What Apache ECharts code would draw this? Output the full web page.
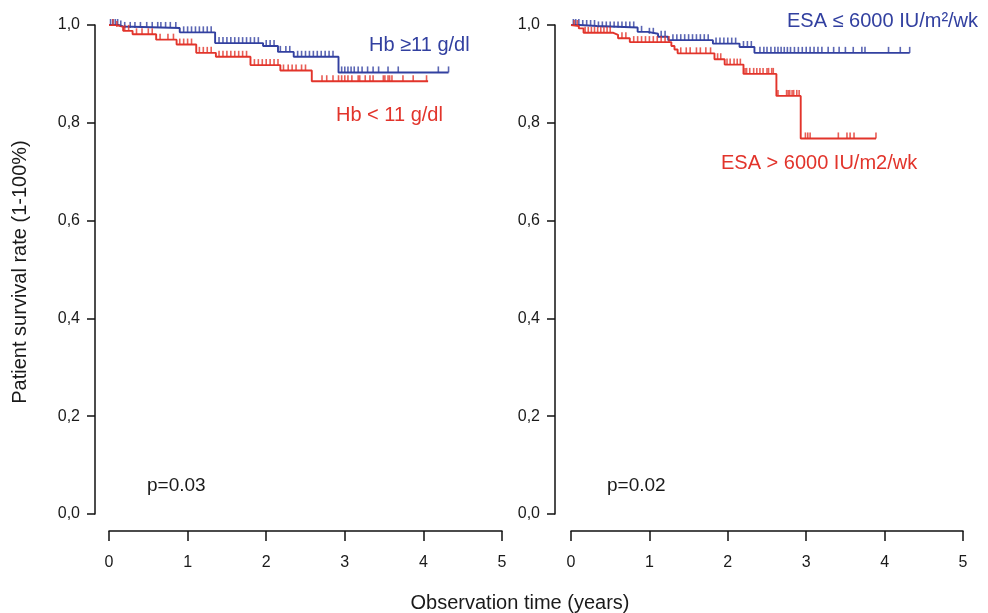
<!DOCTYPE html>
<html>
<head>
<meta charset="utf-8">
<script src="https://cdn.jsdelivr.net/npm/echarts@6/dist/echarts.min.js"></script>
<style>
  html, body { margin: 0; padding: 0; background: #fff; }
  #main { width: 988px; height: 613px; }
</style>
</head>
<body>
<div id="main"></div>
<script>
  // Kaplan-Meier steps: [years, survival]
  let hbHighSteps = [[0, 1.0], [0.12, 0.997], [0.18, 0.994], [0.90, 0.985], [1.35, 0.963], [1.96, 0.957], [2.15, 0.945], [2.35, 0.935], [2.92, 0.903], [4.32, 0.903]]
  let hbLowSteps = [[0, 1.0], [0.10, 0.996], [0.18, 0.988], [0.30, 0.981], [0.60, 0.970], [0.86, 0.960], [1.11, 0.943], [1.36, 0.935], [1.80, 0.918], [2.18, 0.907], [2.58, 0.885], [4.06, 0.885]]
  let esaLowSteps = [[0, 1.0], [0.11, 0.998], [0.33, 0.995], [0.85, 0.986], [0.98, 0.982], [1.11, 0.976], [1.24, 0.969], [1.81, 0.962], [2.15, 0.955], [2.34, 0.943], [4.32, 0.943]]
  let esaHighSteps = [[0, 1.0], [0.02, 0.998], [0.10, 0.993], [0.16, 0.984], [0.54, 0.980], [0.60, 0.973], [0.75, 0.965], [1.28, 0.957], [1.32, 0.950], [1.36, 0.942], [1.83, 0.930], [1.96, 0.919], [2.20, 0.900], [2.62, 0.855], [2.93, 0.768], [3.89, 0.768]]

  // censored observations (years)
  let hbHighCensor = [0.02, 0.05, 0.08, 0.11, 0.15, 0.2, 0.27, 0.33, 0.4, 0.48, 0.55, 0.62, 0.66, 0.72, 0.78, 0.85, 0.95, 1.0, 1.05, 1.1, 1.15, 1.2, 1.25, 1.3, 1.4, 1.45, 1.5, 1.55, 1.6, 1.65, 1.7, 1.75, 1.8, 1.85, 1.9, 2.0, 2.05, 2.1, 2.18, 2.25, 2.3, 2.4, 2.45, 2.5, 2.55, 2.6, 2.65, 2.7, 2.75, 2.8, 2.85, 2.96, 3.0, 3.04, 3.08, 3.12, 3.17, 3.22, 3.29, 3.36, 3.43, 3.55, 3.68, 4.19, 4.32]
  let hbLowCensor = [0.05, 0.1, 0.2, 0.25, 0.35, 0.42, 0.5, 0.55, 0.65, 0.75, 0.82, 0.9, 0.95, 1.0, 1.05, 1.15, 1.2, 1.25, 1.3, 1.4, 1.45, 1.5, 1.55, 1.6, 1.65, 1.7, 1.75, 1.85, 1.9, 1.95, 2.0, 2.05, 2.1, 2.15, 2.22, 2.28, 2.33, 2.38, 2.45, 2.5, 2.71, 2.77, 2.85, 2.92, 2.96, 3.0, 3.04, 3.09, 3.17, 3.19, 3.26, 3.32, 3.36, 3.49, 3.51, 3.55, 3.57, 3.6, 3.74, 3.87, 4.04]
  let esaLowCensor = [0.03, 0.06, 0.1, 0.15, 0.2, 0.25, 0.3, 0.35, 0.4, 0.45, 0.5, 0.55, 0.6, 0.65, 0.7, 0.75, 0.8, 0.9, 1.0, 1.05, 1.15, 1.2, 1.3, 1.35, 1.4, 1.45, 1.5, 1.55, 1.6, 1.65, 1.7, 1.75, 1.85, 1.9, 1.95, 2.0, 2.05, 2.1, 2.2, 2.25, 2.3, 2.41, 2.46, 2.5, 2.55, 2.6, 2.64, 2.68, 2.72, 2.76, 2.8, 2.85, 2.9, 2.95, 3.0, 3.05, 3.1, 3.15, 3.2, 3.28, 3.35, 3.42, 3.5, 3.6, 3.71, 3.75, 4.05, 4.2, 4.32]
  let esaHighCensor = [0.04, 0.08, 0.18, 0.22, 0.26, 0.3, 0.34, 0.38, 0.42, 0.46, 0.5, 0.65, 0.7, 0.8, 0.85, 0.9, 0.95, 1.0, 1.05, 1.1, 1.15, 1.2, 1.25, 1.4, 1.47, 1.52, 1.6, 1.65, 1.72, 1.78, 1.87, 1.91, 1.99, 2.03, 2.08, 2.12, 2.16, 2.22, 2.24, 2.28, 2.33, 2.37, 2.41, 2.45, 2.5, 2.52, 2.56, 2.58, 2.64, 2.75, 2.77, 2.79, 2.82, 2.84, 2.88, 2.91, 2.99, 3.02, 3.05, 3.41, 3.52, 3.56, 3.61, 3.89]

  let yTicks = [0, 0.2, 0.4, 0.6, 0.8, 1.0]

  let blue = '#3240a0'
  let red = '#e2342b'
  let font = '"Liberation Sans", Arial, sans-serif'

  // survival value at time t for a step list
  function survAt(steps, t) {
    let s = steps[0][1]
    steps.forEach(p => { if (p[0] <= t) s = p[1] })
    return s
  }

  function censorData(steps, times) {
    return times.map(t => [t, survAt(steps, t)])
  }

  function xAx(idx) {
    return {
      gridIndex: idx, type: 'value', min: 0, max: 5, interval: 1, offset: 17,
      axisLine: {show: true, onZero: false, lineStyle: {color: '#111', width: 1.5}},
      axisTick: {show: true, length: 10, lineStyle: {color: '#111', width: 1.5}},
      axisLabel: {color: '#1a1a1a', fontSize: 16, fontFamily: font, margin: 24},
      splitLine: {show: false}
    }
  }

  function yAx(idx, off) {
    return {
      gridIndex: idx, type: 'value', min: 0, max: 1, interval: 0.2, offset: off,
      axisLine: {show: true, onZero: false, lineStyle: {color: '#111', width: 1.5}},
      axisTick: {show: true, length: 8, lineStyle: {color: '#111', width: 1.5}},
      axisLabel: {
        color: '#1a1a1a', fontSize: 16, fontFamily: font, margin: 15,
        formatter: v => yTicks.indexOf(Math.round(v * 10) / 10) >= 0 ? v.toFixed(1).replace('.', ',') : ''
      },
      splitLine: {show: false}
    }
  }

  function kmLine(idx, steps, color) {
    return {
      type: 'line', xAxisIndex: idx, yAxisIndex: idx, data: steps, step: 'end',
      symbol: 'none', clip: false, lineStyle: {color: color, width: 1.9}, z: 3
    }
  }

  function censor(idx, steps, times, color) {
    return {
      type: 'scatter', xAxisIndex: idx, yAxisIndex: idx, data: censorData(steps, times),
      symbol: 'rect', symbolSize: [1.6, 6], symbolOffset: [0, -3], clip: false,
      itemStyle: {color: color}, z: 4
    }
  }

  function label(text, x, y, color, size) {
    return {
      type: 'text', x: x, y: y,
      style: {text: text, fill: color, font: size + 'px ' + font, verticalAlign: 'middle'}
    }
  }

  let myChart = echarts.init(document.getElementById('main'))
  myChart.setOption({
    animation: false,
    grid: [
      {left: 109, top: 25, width: 393, height: 489},
      {left: 571, top: 25, width: 392, height: 489}
    ],
    xAxis: [xAx(0), xAx(1)],
    yAxis: [yAx(0, 14), yAx(1, 16)],
    series: [
      kmLine(0, hbHighSteps, blue),
      kmLine(0, hbLowSteps, red),
      censor(0, hbHighSteps, hbHighCensor, blue),
      censor(0, hbLowSteps, hbLowCensor, red),
      kmLine(1, esaLowSteps, blue),
      kmLine(1, esaHighSteps, red),
      censor(1, esaLowSteps, esaLowCensor, blue),
      censor(1, esaHighSteps, esaHighCensor, red)
    ],
    graphic: [
      label('Hb \u226511 g/dl', 369, 45, blue, 20),
      label('Hb < 11 g/dl', 336, 115, red, 20),
      label('ESA \u2264 6000 IU/m\u00b2/wk', 787, 21, blue, 20),
      label('ESA > 6000 IU/m2/wk', 721, 163, red, 20),
      label('p=0.03', 147, 486, '#1a1a1a', 19),
      label('p=0.02', 607, 486, '#1a1a1a', 19),
      {
        type: 'text', x: 20, y: 272, rotation: Math.PI / 2,
        style: {text: 'Patient survival rate (1-100%)', fill: '#1a1a1a', font: '20px ' + font, align: 'center', verticalAlign: 'middle'}
      },
      {
        type: 'text', x: 520, y: 603,
        style: {text: 'Observation time (years)', fill: '#1a1a1a', font: '20px ' + font, align: 'center', verticalAlign: 'middle'}
      }
    ]
  })
</script>
</body>
</html>
